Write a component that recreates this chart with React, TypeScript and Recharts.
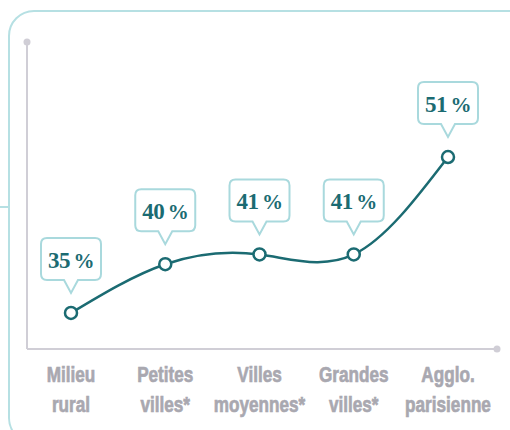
import React from "react";
import { LineChart, Line, XAxis, YAxis, LabelList } from "recharts";

// Share by type of commune (%)
const categories = [
  "Milieu\nrural",
  "Petites\nvilles*",
  "Villes\nmoyennes*",
  "Grandes\nvilles*",
  "Agglo.\nparisienne",
];
const shares = [35, 40, 41, 41, 51];

const data = categories.map((name, i) => ({ name, share: shares[i] }));

const LINE = "#1b6b72";
const BOX = "#a9d9dd";
const AXIS = "#d0ced6";
const TICK = "#a9a8b0";
const FRAME = "#b6e0e3";

// two-line category label under the axis (narrowed to mimic a condensed face)
const CategoryTick = (props: any) => {
  const { x, y, payload } = props;
  const lines = String(payload.value).split("\n");
  return (
    <g transform={`translate(${x}, ${y}) scale(0.78, 1)`}>
      {lines.map((t, i) => (
        <text
          key={i}
          x={0}
          y={33 + i * 30}
          textAnchor="middle"
          fill={TICK}
          stroke={TICK}
          strokeWidth={0.7}
          fontSize={22}
          fontWeight="bold"
          fontFamily="'Liberation Sans', Arial, sans-serif"
        >
          {t}
        </text>
      ))}
    </g>
  );
};

// speech-bubble value label above each point
const Callout = (props: any) => {
  const { x, y, value } = props;
  if (x == null || y == null) return null;
  const L = x - 30;
  const R = x + 30;
  const T = y - 75;
  const B = y - 33;
  const r = 6;
  const tip = y - 20;
  const d = `M ${L + r} ${T} H ${R - r} Q ${R} ${T} ${R} ${T + r} V ${B - r} Q ${R} ${B} ${R - r} ${B} H ${x + 7} L ${x} ${tip} L ${x - 7} ${B} H ${L + r} Q ${L} ${B} ${L} ${B - r} V ${T + r} Q ${L} ${T} ${L + r} ${T} Z`;
  return (
    <g>
      <path d={d} fill="#fff" stroke={BOX} strokeWidth={2} />
      <text
        x={x}
        y={T + 30}
        textAnchor="middle"
        fill={LINE}
        fontSize={23}
        fontWeight="bold"
        fontFamily="'Liberation Serif', serif"
        letterSpacing={-0.5}
      >
        {value}
        <tspan fontSize={21}>{"\u2009%"}</tspan>
      </text>
    </g>
  );
};

export default function App() {
  return (
    <div
      style={{
        position: "absolute",
        left: 0,
        top: 0,
        width: 510,
        height: 430,
        overflow: "hidden",
        background: "#fff",
      }}
    >
      {/* rounded frame */}
      <div
        style={{
          position: "absolute",
          left: 8,
          top: 10,
          width: 620,
          height: 430,
          border: `2px solid ${FRAME}`,
          borderRadius: 26,
        }}
      />
      <div
        style={{
          position: "absolute",
          left: 0,
          top: 206,
          width: 9,
          height: 2,
          background: FRAME,
        }}
      />
      <div style={{ position: "absolute", left: 0, top: 0 }}>
        <LineChart
          width={510}
          height={430}
          data={data}
          margin={{ top: 42, right: 13, left: 17, bottom: 21 }}
        >
          <XAxis
            dataKey="name"
            interval={0}
            height={60}
            padding={{ left: 44, right: 49 }}
            axisLine={{ stroke: AXIS, strokeWidth: 2 }}
            tickLine={false}
            tickSize={0}
            tickMargin={0}
            tick={<CategoryTick />}
          />
          <YAxis
            width={10}
            domain={[31.3, 62.8]}
            tick={false}
            tickLine={false}
            axisLine={{ stroke: AXIS, strokeWidth: 2 }}
          />
          <Line
            type="natural"
            dataKey="share"
            stroke={LINE}
            strokeWidth={2.5}
            dot={{ r: 6, fill: "#fff", stroke: LINE, strokeWidth: 2.5 }}
            activeDot={false}
            isAnimationActive={false}
          >
            <LabelList dataKey="share" content={<Callout />} />
          </Line>
        </LineChart>
      </div>
      {/* axis end dots */}
      <svg
        width={510}
        height={430}
        style={{ position: "absolute", left: 0, top: 0, pointerEvents: "none" }}
      >
        <circle cx={27} cy={42} r={3.5} fill={AXIS} />
        <circle cx={497} cy={349} r={3.5} fill={AXIS} />
      </svg>
    </div>
  );
}
